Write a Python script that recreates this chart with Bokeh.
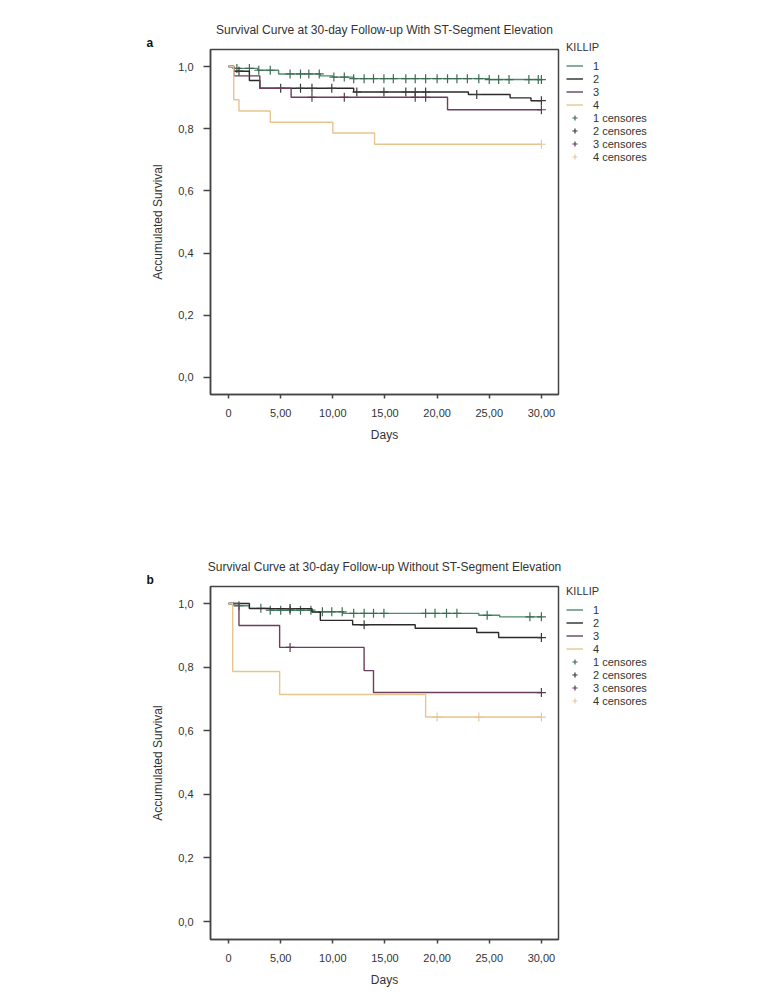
import numpy as np
from bokeh.plotting import figure
from bokeh.layouts import column
from bokeh.models import (Range1d, FixedTicker, CustomJSTickFormatter, Legend,
                          LegendItem, Title)
from bokeh.embed import file_html
from bokeh.resources import INLINE

# ---------------- data ----------------
killip_groups = ["1", "2", "3", "4"]

# Chart a: with ST-segment elevation
a_k1_days = [0, 0.5, 2.8, 4.8, 8.8, 10.0, 12.0, 25.0, 30.0]
a_k1_surv = [1.0, 0.994, 0.988, 0.976, 0.970, 0.966, 0.961, 0.958, 0.958]
a_k1_cens = [0.8, 2.0, 2.9, 4.0, 5.9, 6.9, 7.7, 8.7, 10.1, 11.1, 12.0, 13.0, 13.9,
             14.9, 15.8, 17.0, 17.9, 18.9, 20.0, 21.0, 21.9, 22.9, 24.0, 25.0,
             25.9, 26.9, 28.8, 29.7, 30.0]
a_k2_days = [0, 0.5, 2.0, 3.0, 12.0, 23.0, 27.0, 29.0, 30.0]
a_k2_surv = [1.0, 0.985, 0.955, 0.930, 0.918, 0.910, 0.899, 0.890, 0.890]
a_k2_cens = [1.0, 5.0, 6.9, 8.0, 9.9, 12.3, 14.9, 17.0, 17.9, 18.9, 23.8, 30.0]
a_k3_days = [0, 0.5, 3.0, 6.0, 21.0, 30.0]
a_k3_surv = [1.0, 0.970, 0.930, 0.901, 0.861, 0.861]
a_k3_cens = [8.0, 11.1, 17.9, 18.9, 30.0]
a_k4_days = [0, 0.5, 1.0, 4.0, 10.0, 14.0, 30.0]
a_k4_surv = [1.0, 0.893, 0.857, 0.821, 0.786, 0.750, 0.750]
a_k4_cens = [30.0]

# Chart b: without ST-segment elevation
b_k1_days = [0, 0.5, 2.0, 4.0, 8.0, 11.0, 24.0, 26.0, 30.0]
b_k1_surv = [1.0, 0.993, 0.985, 0.979, 0.974, 0.969, 0.963, 0.958, 0.958]
b_k1_cens = [1.0, 3.1, 4.0, 5.0, 5.9, 6.9, 7.9, 9.0, 9.9, 10.9, 12.0, 13.0, 13.9,
             14.9, 18.9, 19.8, 20.9, 21.9, 24.8, 28.9, 30.0]
b_k2_days = [0, 2.0, 8.0, 8.8, 11.9, 17.9, 23.8, 25.9, 30.0]
b_k2_surv = [1.0, 0.984, 0.973, 0.947, 0.933, 0.922, 0.909, 0.893, 0.893]
b_k2_cens = [5.9, 13.0, 30.0]
b_k3_days = [0, 1.0, 4.9, 13.0, 13.9, 30.0]
b_k3_surv = [1.0, 0.931, 0.862, 0.789, 0.720, 0.720]
b_k3_cens = [5.9, 30.0]
b_k4_days = [0, 0.4, 4.9, 18.9, 30.0]
b_k4_surv = [1.0, 0.786, 0.714, 0.643, 0.643]
b_k4_cens = [20.0, 24.0, 30.0]

x_ticks = [0, 5, 10, 15, 20, 25, 30]
x_tick_labels = ["0", "5,00", "10,00", "15,00", "20,00", "25,00", "30,00"]
y_ticks = [0.0, 0.2, 0.4, 0.6, 0.8, 1.0]
y_tick_labels = ["0,0", "0,2", "0,4", "0,6", "0,8", "1,0"]

title_a = "Survival Curve at 30-day Follow-up With ST-Segment Elevation"
title_b = "Survival Curve at 30-day Follow-up Without ST-Segment Elevation"
legend_title = "KILLIP"

# ---------------- style ----------------
FONT = "Liberation Sans"
TXT = "#333333"
line_colors = ["#4f8a6b", "#2a2a2a", "#6a3f5c", "#e8c48f"]
cens_colors = ["#3c6d54", "#3a3a3a", "#5a3a50", "#e6c89e"]


def surv_at(days, surv, t):
    i = int(np.searchsorted(np.asarray(days), t, side="right")) - 1
    return surv[max(i, 0)]


def fmt(ticks, labels):
    return CustomJSTickFormatter(
        args=dict(vals=ticks, labs=labels),
        code="const i = vals.findIndex(v => Math.abs(v - tick) < 1e-9);"
             "return i >= 0 ? labs[i] : '';")


def make_chart(title, series, y_lo, y_hi, frame_h, mb_top, mb_bottom, letter,
               legend_vy):
    p = figure(frame_width=348, frame_height=frame_h, output_backend="svg",
               toolbar_location=None, title=title,
               x_range=Range1d(-1.73, 31.64), y_range=Range1d(y_lo, y_hi),
               min_border_left=210, min_border_right=150, min_border_top=mb_top,
               min_border_bottom=mb_bottom)
    p.title.text_font = FONT
    p.title.text_font_size = "12px"
    p.title.text_font_style = "normal"
    p.title.text_color = TXT
    p.title.align = "center"
    p.title.standoff = -7

    # panel letter (a / b), in its own row just above the frame
    p.add_layout(Title(text=letter, align="left", offset=-64, standoff=0,
                       text_font=FONT, text_font_size="12px",
                       text_font_style="bold", text_color="#111111"), "above")

    p.xgrid.visible = False
    p.ygrid.visible = False
    p.outline_line_color = "#444444"
    p.outline_line_width = 1.5
    p.background_fill_color = "white"
    p.border_fill_color = "white"

    p.xaxis.ticker = FixedTicker(ticks=x_ticks)
    p.xaxis.formatter = fmt(x_ticks, x_tick_labels)
    p.yaxis.ticker = FixedTicker(ticks=y_ticks)
    p.yaxis.formatter = fmt(y_ticks, y_tick_labels)
    p.xaxis.axis_label = "Days"
    p.yaxis.axis_label = "Accumulated Survival"
    for ax in (p.xaxis, p.yaxis):
        ax.axis_line_color = "#444444"
        ax.axis_line_width = 1.5
        ax.major_tick_line_color = "#444444"
        ax.major_tick_line_width = 1.5
        ax.major_tick_in = 0
        ax.minor_tick_line_color = None
        ax.major_label_text_font = FONT
        ax.major_label_text_font_size = "11px"
        ax.major_label_text_color = TXT
        ax.axis_label_text_font = FONT
        ax.axis_label_text_font_size = "12px"
        ax.axis_label_text_font_style = "normal"
        ax.axis_label_text_color = TXT
    p.xaxis.major_tick_out = 4
    p.xaxis.major_label_standoff = 10
    p.xaxis.axis_label_standoff = 8
    p.yaxis.major_tick_out = 7
    p.yaxis.major_label_standoff = 10
    p.yaxis.axis_label_standoff = 10

    step_items, cens_items = [], []
    for i, (days, surv, cens) in enumerate(series):
        r = p.step(x=days, y=surv, mode="after", line_color=line_colors[i],
                   line_width=1.4)
        cy = [surv_at(days, surv, t) for t in cens]
        c = p.scatter(x=cens, y=cy, marker="cross", size=9,
                      line_color=cens_colors[i], line_width=1.2)
        step_items.append(LegendItem(label=killip_groups[i], renderers=[r]))
        cens_items.append(LegendItem(label=f"{killip_groups[i]} censores",
                                     renderers=[c]))

    legend = Legend(items=step_items + cens_items, location=(8, legend_vy),
                    title=legend_title, title_text_font=FONT,
                    title_text_font_size="11px", title_text_font_style="normal",
                    title_text_color=TXT, title_standoff=6,
                    margin=0, padding=0, spacing=0, label_height=13,
                    glyph_height=13, glyph_width=17, label_standoff=10,
                    label_text_font=FONT, label_text_font_size="11px",
                    label_text_color=TXT, border_line_color=None,
                    background_fill_alpha=0)
    p.add_layout(legend, "right")
    return p


series_a = [(a_k1_days, a_k1_surv, a_k1_cens), (a_k2_days, a_k2_surv, a_k2_cens),
            (a_k3_days, a_k3_surv, a_k3_cens), (a_k4_days, a_k4_surv, a_k4_cens)]
series_b = [(b_k1_days, b_k1_surv, b_k1_cens), (b_k2_days, b_k2_surv, b_k2_cens),
            (b_k3_days, b_k3_surv, b_k3_cens), (b_k4_days, b_k4_surv, b_k4_cens)]

p1 = make_chart(title_a, series_a, -0.0547, 1.0547, 345, 49, 151, "a", 231)
p2 = make_chart(title_b, series_b, -0.0566, 1.0535, 353, 41, 55, "b", 232)

layout = column(p1, p2)
open("out.html", "w").write(file_html(layout, INLINE))
